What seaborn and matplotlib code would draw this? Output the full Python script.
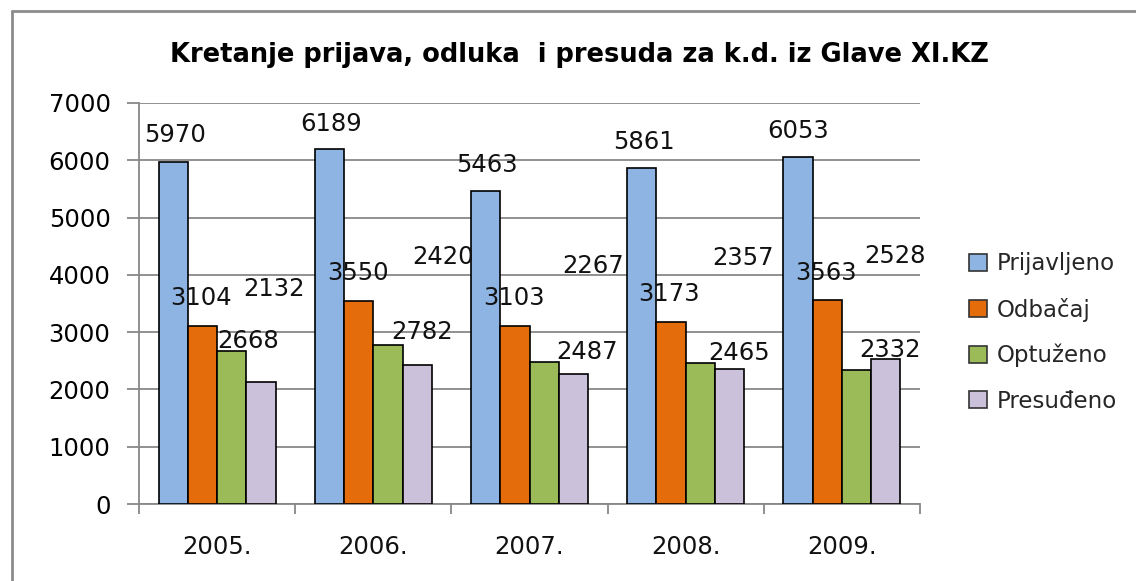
import matplotlib
matplotlib.use("Agg")
import matplotlib.pyplot as plt
from matplotlib.lines import Line2D
from matplotlib.patches import Patch
import seaborn as sns
import pandas as pd

# ---- data ----
years = ["2005.", "2006.", "2007.", "2008.", "2009."]
series = ["Prijavljeno", "Odbačaj", "Optuženo", "Presuđeno"]
prijavljeno = [5970, 6189, 5463, 5861, 6053]
odbacaj = [3104, 3550, 3103, 3173, 3563]
optuzeno = [2668, 2782, 2487, 2465, 2332]
presudeno = [2132, 2420, 2267, 2357, 2528]
title = "Kretanje prijava, odluka  i presuda za k.d. iz Glave XI.KZ"

# ---- styles / label placement (pixel offsets from bar top centre) ----
colors = ["#8EB4E3", "#E46C0A", "#9BBB59", "#CCC1DA"]
label_dx = [[2, 2, 1, 2, 0],
            [-1, -1, -1, -2, -1],
            [16, 34, 43, 39, 33],
            [13, 26, 20, 13, 9]]
label_dy = [[27, 25, 26, 26, 26],
            [28, 28, 28, 28, 27],
            [10, 13, 10, 10, 20],
            [93, 108, 108, 111, 103]]

values = [prijavljeno, odbacaj, optuzeno, presudeno]
rows = []
for s, vals in zip(series, values):
    for y, v in zip(years, vals):
        rows.append({"Godina": y, "Serija": s, "Broj": v})
df = pd.DataFrame(rows)

sns.set_theme(style="white")
plt.rcParams["font.family"] = ["DejaVu Sans"]

W, H = 1136, 581
fig = plt.figure(figsize=(W / 100, H / 100), dpi=100)
ax = fig.add_axes([139 / W, 1 - 504 / H, 781 / W, 401 / H])

sns.barplot(data=df, x="Godina", y="Broj", hue="Serija", order=years,
            hue_order=series, palette=colors, width=0.75, ax=ax,
            edgecolor="black", linewidth=1.2, saturation=1, legend=False,
            errorbar=None, zorder=3)

ax.set_xlim(-0.5, len(years) - 0.5)
ax.set_ylim(0, 7000)
ax.set_yticks(range(0, 7001, 1000))
ax.set_xlabel("")
ax.set_ylabel("")

gray = "#888888"
ax.yaxis.grid(True, color=gray, linewidth=1.3, zorder=0)
ax.xaxis.grid(False)
for side in ["top", "right"]:
    ax.spines[side].set_visible(False)
for side in ["left", "bottom"]:
    ax.spines[side].set_color(gray)
    ax.spines[side].set_linewidth(1.3)

tick_fs = 17.5
ax.tick_params(axis="y", which="major", left=True, length=8.5, width=1.3,
               color=gray, pad=12, labelsize=tick_fs, labelcolor="black")
ax.set_xticks([i - 0.5 for i in range(len(years) + 1)], minor=True)
ax.tick_params(axis="x", which="minor", bottom=True, length=7, width=1.3,
               color=gray)
ax.tick_params(axis="x", which="major", bottom=False, length=0, pad=22,
               labelsize=tick_fs, labelcolor="#111111")

# data labels
for si, cont in enumerate(ax.containers):
    for bi, bar in enumerate(cont):
        v = values[si][bi]
        ax.annotate(str(v), (bar.get_x() + bar.get_width() / 2, bar.get_height()),
                    xytext=(label_dx[si][bi], label_dy[si][bi]),
                    textcoords="offset pixels", ha="center", va="center",
                    fontsize=tick_fs, color="#111111", zorder=5,
                    annotation_clip=False)

# title
fig.text(579 / W, 1 - 55 / H, title, ha="center", va="center",
         fontsize=18.5, fontweight="bold", family=["DejaVu Sans"],
         color="black")

# legend
handles = [Patch(facecolor=c, edgecolor="#333333", linewidth=1.2) for c in colors]
fig.legend(handles, series, loc="upper left",
           bbox_to_anchor=(958 / W, 1 - 241 / H), frameon=False,
           fontsize=16.5, handlelength=0.75, handleheight=0.75,
           handletextpad=0.45, labelspacing=0.97, borderpad=0)

# outer frame (top and left edges visible)
fig.add_artist(Line2D([12 / W, 1.0], [1 - 11 / H, 1 - 11 / H],
                      transform=fig.transFigure, color="#8c8c8c", linewidth=2))
fig.add_artist(Line2D([12 / W, 12 / W], [0, 1 - 11 / H],
                      transform=fig.transFigure, color="#8c8c8c", linewidth=2))

fig.savefig("out.png", dpi=100, facecolor="white")
